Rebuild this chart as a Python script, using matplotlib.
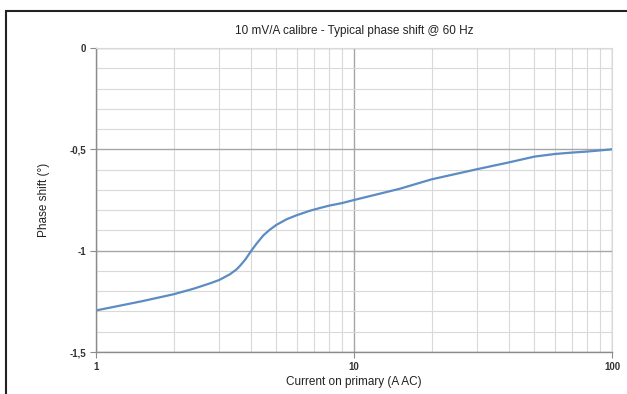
import numpy as np
import matplotlib.pyplot as plt
from matplotlib.patches import Rectangle
from matplotlib.ticker import FixedLocator, NullFormatter, FuncFormatter

plt.rcParams['font.family'] = ['Liberation Sans Narrow', 'Liberation Sans', 'DejaVu Sans']

# values
current = [1, 1.5, 2, 2.4, 2.77, 3, 3.3, 3.5, 3.62, 3.8, 4, 4.2, 4.45, 4.7, 5, 5.48, 6, 6.75, 7.4, 8, 9, 10,
           15, 20, 30, 40, 50, 60, 70, 80, 100]
phase = [-1.295, -1.25, -1.215, -1.187, -1.161, -1.145, -1.117, -1.093, -1.074, -1.042, -1.0, -0.964, -0.925,
         -0.898, -0.873, -0.845, -0.825, -0.803, -0.789, -0.778, -0.765, -0.75,
         -0.695, -0.648, -0.598, -0.564, -0.536, -0.523, -0.516, -0.511, -0.5]

fig = plt.figure(figsize=(6.27, 3.94), dpi=100)
ax = fig.add_axes([96/627, 1-352/394, (612-96)/627, (352-48)/394])

# outer frame
fig.patches.append(Rectangle((6/627, -0.05), 1.0, 1-11/394+0.05, transform=fig.transFigure,
                             fill=False, edgecolor='#222222', lw=1.5))

ax.plot(current, phase, color='#5b8cc2', lw=1.6, solid_joinstyle='round')

ax.set_xscale('log')
ax.set_xlim(1, 100)
ax.set_ylim(-1.5, 0)
ax.set_xticks([1, 10, 100])
ax.xaxis.set_major_formatter(FuncFormatter(lambda v, p: '%d' % v))
ax.xaxis.set_minor_locator(FixedLocator([k*10**d for d in range(2) for k in range(2, 10)]))
ax.xaxis.set_minor_formatter(NullFormatter())
ax.set_yticks([0, -0.5, -1, -1.5])
ax.set_yticklabels(['0', '-0,5', '-1', '-1,5'])
ax.yaxis.set_minor_locator(FixedLocator(np.arange(-1.4, 0, 0.1)))

ax.grid(which='major', color='#a6a6a6', lw=1.0)
ax.grid(which='minor', color='#d9d9d9', lw=0.8)
ax.set_axisbelow(True)

for s in ['top', 'right']:
    ax.spines[s].set_color('#d9d9d9')
    ax.spines[s].set_linewidth(0.8)
for s in ['left', 'bottom']:
    ax.spines[s].set_color('#8c8c8c')
    ax.spines[s].set_linewidth(1.0)

ax.tick_params(which='major', length=4, color='#8c8c8c', labelsize=7, pad=3)
ax.tick_params(which='minor', length=0)
for lab in ax.get_xticklabels() + ax.get_yticklabels():
    lab.set_fontweight('bold')
    lab.set_color('#333333')

ax.set_title('10 mV/A calibre - Typical phase shift @ 60 Hz', fontsize=8.5, pad=10, color='#222222')
ax.set_xlabel('Current on primary (A AC)', fontsize=8.5, labelpad=3, color='#222222')
ax.set_ylabel('Phase shift (°)', fontsize=8.5, labelpad=14, color='#222222')

fig.savefig('out.png', dpi=100)
